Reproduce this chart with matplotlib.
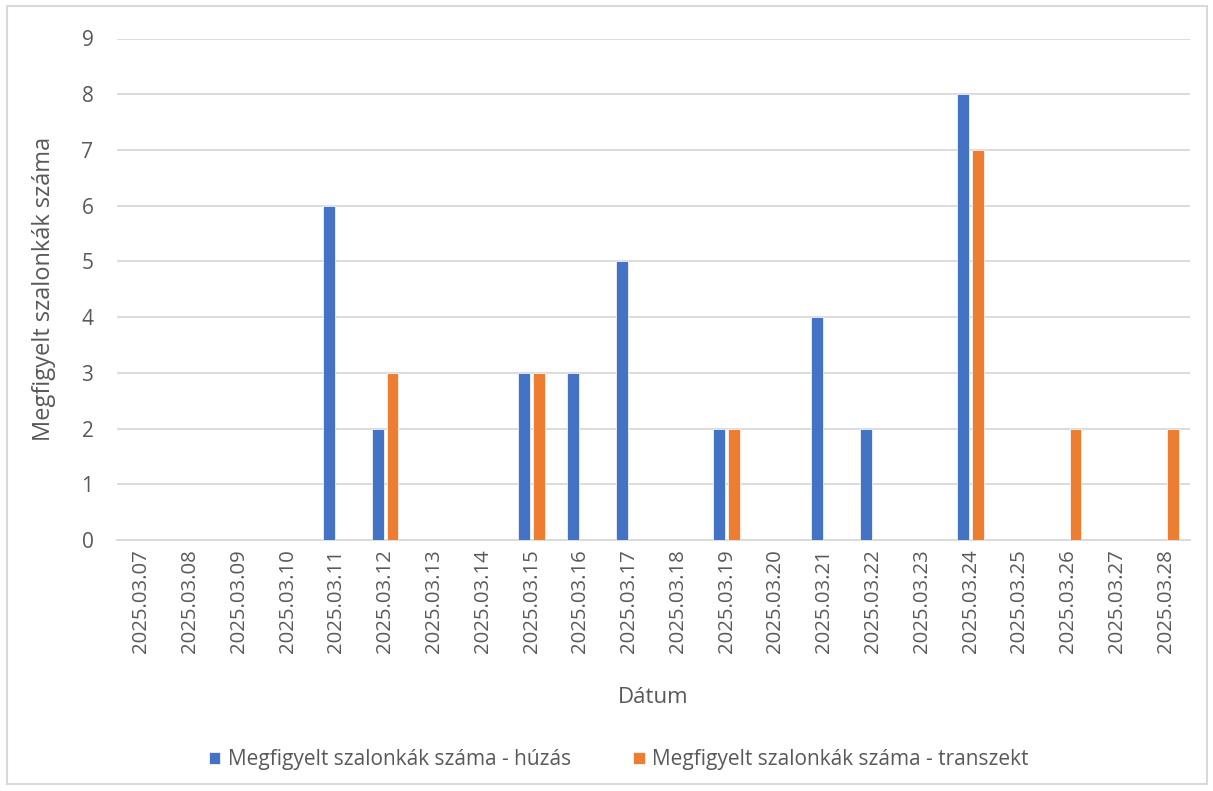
import numpy as np
import matplotlib
matplotlib.use("Agg")
import matplotlib.pyplot as plt
from matplotlib.patches import Rectangle

dates = ["2025.03.07", "2025.03.08", "2025.03.09", "2025.03.10", "2025.03.11",
         "2025.03.12", "2025.03.13", "2025.03.14", "2025.03.15", "2025.03.16",
         "2025.03.17", "2025.03.18", "2025.03.19", "2025.03.20", "2025.03.21",
         "2025.03.22", "2025.03.23", "2025.03.24", "2025.03.25", "2025.03.26",
         "2025.03.27", "2025.03.28"]
huzas = [0, 0, 0, 0, 6, 2, 0, 0, 3, 3, 5, 0, 2, 0, 4, 2, 0, 8, 0, 0, 0, 0]
transzekt = [0, 0, 0, 0, 0, 3, 0, 0, 3, 0, 0, 0, 2, 0, 0, 0, 0, 7, 0, 2, 0, 2]

plt.rcParams["font.family"] = ["Open Sans", "DejaVu Sans"]
txt = "#595959"

fig = plt.figure(figsize=(12.13, 7.91), dpi=100)
fig.patches.append(Rectangle((7 / 1213, 7 / 791), 1 - 13 / 1213, 1 - 13 / 791,
                             transform=fig.transFigure, fill=False,
                             edgecolor="#d9d9d9", linewidth=1.5))
ax = fig.add_axes([117 / 1213, 1 - 540 / 791, (1190 - 117) / 1213, (540 - 38.5) / 791])

x = np.arange(len(dates))
w = 0.24
ax.bar(x - 0.15, huzas, w, color="#4472c4", edgecolor="white", linewidth=0.5,
       label="Megfigyelt szalonkák száma - húzás", zorder=3)
ax.bar(x + 0.15, transzekt, w, color="#ed7d31", edgecolor="white", linewidth=0.5,
       label="Megfigyelt szalonkák száma - transzekt", zorder=3)

ax.set_xlim(-0.5, len(dates) - 0.5)
ax.set_ylim(0, 9)
ax.set_yticks(range(10))
ax.yaxis.grid(True, color="#d9d9d9", linewidth=1.3, zorder=0)
ax.set_xticks(x)
ax.set_xticklabels(dates, rotation=90, fontsize=14.7, color=txt)
ax.tick_params(axis="y", labelsize=15, labelcolor=txt, length=0, pad=17)
ax.tick_params(axis="x", length=0, pad=7)
for s in ["top", "right", "left"]:
    ax.spines[s].set_visible(False)
ax.spines["bottom"].set_color("#d9d9d9")
ax.spines["bottom"].set_linewidth(1.3)

ax.set_ylabel("Megfigyelt szalonkák száma", fontsize=17, color=txt, labelpad=18)
ax.set_xlabel("Dátum", fontsize=16, color=txt, labelpad=24)

ax.legend(loc="center", bbox_to_anchor=(0.510, (791 - 760) / 791), bbox_transform=fig.transFigure,
          ncol=2, frameon=False, fontsize=15, labelcolor=txt, handlelength=0.55,
          handleheight=0.55, handletextpad=0.35, columnspacing=3.0)

fig.savefig("out.png", dpi=100)
